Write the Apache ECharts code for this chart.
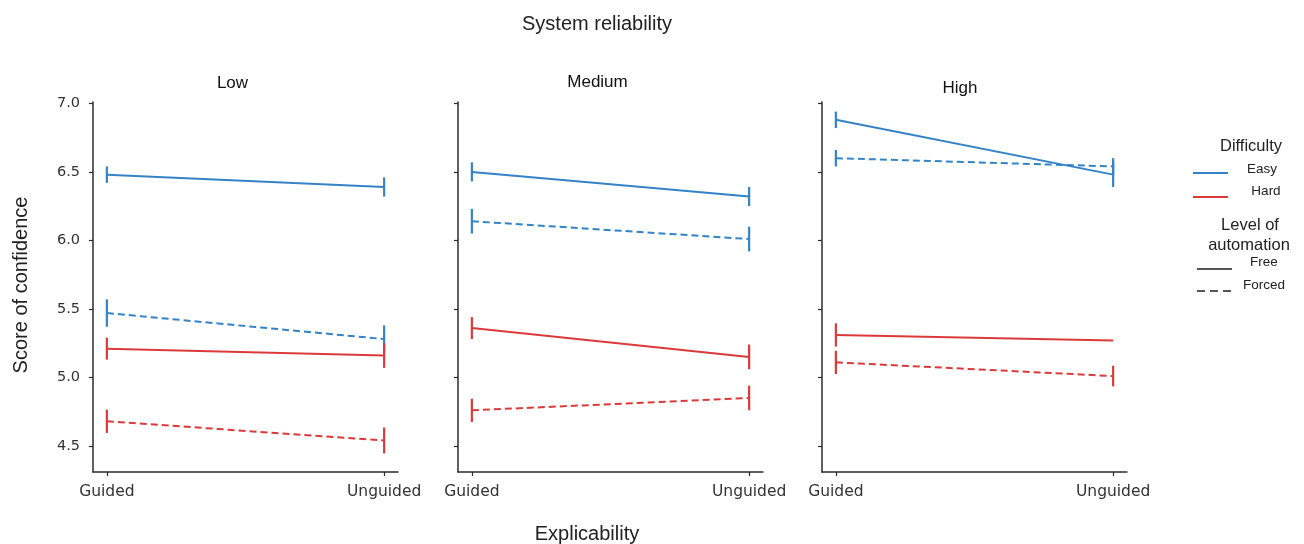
<!DOCTYPE html>
<html>
<head>
<meta charset="utf-8">
<script src="https://cdn.jsdelivr.net/npm/echarts@6/dist/echarts.min.js"></script>
<style>
html,body{margin:0;padding:0;background:#fff;}
#c{width:1304px;height:544px;}
</style>
</head>
<body>
<div id="c"></div>
<script>
// ---- data ----
const explicability = ['Guided', 'Unguided'];
const reliability = ['Low', 'Medium', 'High'];
const yTicks = [4.5, 5.0, 5.5, 6.0, 6.5, 7.0];
// means per panel [Guided, Unguided]
const easyFree   = [[6.48, 6.39], [6.50, 6.32], [6.88, 6.48]];
const easyForced = [[5.47, 5.28], [6.14, 6.01], [6.60, 6.54]];
const hardFree   = [[5.21, 5.16], [5.36, 5.15], [5.31, 5.27]];
const hardForced = [[4.68, 4.54], [4.76, 4.85], [5.11, 5.01]];
// half-widths of error bars per panel [Guided, Unguided]; null = not drawn
const easyFreeErr   = [[0.06, 0.07], [0.07, 0.07], [0.06, 0.09]];
const easyForcedErr = [[0.10, 0.10], [0.09, 0.09], [0.06, 0.06]];
const hardFreeErr   = [[0.08, 0.09], [0.08, 0.09], [0.085, null]];
const hardForcedErr = [[0.085, 0.095], [0.085, 0.09], [0.085, 0.075]];

const BLUE = '#3383c6';
const RED = '#dc3a3a';
const AXIS = '#2b2b2b';

const groups = [
  {name: 'Easy Free', vals: easyFree, err: easyFreeErr, color: BLUE, dash: 'solid'},
  {name: 'Easy Forced', vals: easyForced, err: easyForcedErr, color: BLUE, dash: [7, 4]},
  {name: 'Hard Free', vals: hardFree, err: hardFreeErr, color: RED, dash: 'solid'},
  {name: 'Hard Forced', vals: hardForced, err: hardForcedErr, color: RED, dash: [7, 4]}
];

const gridLefts = [93, 458, 822];
const grid = [], xAxis = [], yAxis = [], series = [];
reliability.forEach((r, p) => {
  grid.push({left: gridLefts[p], top: 102, width: 305, height: 370});
  xAxis.push({
    type: 'value', gridIndex: p, min: -0.05, max: 1.05,
    axisLine: {show: true, onZero: false, lineStyle: {color: AXIS, width: 1.5}},
    axisTick: {show: true, customValues: [0, 1], length: 4, lineStyle: {color: AXIS, width: 1.2}},
    axisLabel: {show: true, customValues: [0, 1], formatter: v => explicability[Math.round(v)],
      color: '#333', fontFamily: 'DejaVu Sans', fontSize: 15.5, margin: 12},
    splitLine: {show: false}
  });
  yAxis.push({
    type: 'value', gridIndex: p, min: 4.31, max: 7.01,
    axisLine: {show: true, onZero: false, lineStyle: {color: AXIS, width: 1.5}},
    axisTick: {show: true, customValues: yTicks, length: 4, lineStyle: {color: AXIS, width: 1.2}},
    axisLabel: {show: p === 0, customValues: yTicks, formatter: v => v.toFixed(1),
      color: '#333', fontFamily: 'DejaVu Sans', fontSize: 14.5, margin: 13},
    splitLine: {show: false}
  });
  groups.forEach(g => {
    series.push({
      type: 'line', name: g.name, xAxisIndex: p, yAxisIndex: p,
      data: g.vals[p].map((v, i) => [i, v]),
      symbol: 'none', silent: true, z: 2,
      lineStyle: {color: g.color, width: 2, type: g.dash}
    });
    const errData = [];
    g.err[p].forEach((e, i) => {
      if (e !== null) errData.push([i, g.vals[p][i] - e, g.vals[p][i] + e]);
    });
    series.push({
      type: 'custom', xAxisIndex: p, yAxisIndex: p, silent: true, z: 3,
      encode: {x: 0, y: [1, 2]},
      data: errData,
      renderItem: (params, api) => {
        const a = api.coord([api.value(0), api.value(1)]);
        const b = api.coord([api.value(0), api.value(2)]);
        return {type: 'line', shape: {x1: a[0], y1: a[1], x2: b[0], y2: b[1]},
          style: {stroke: g.color, lineWidth: 2.2}};
      }
    });
  });
});

const txt = (x, y, s, size, color, rot) => ({type: 'text', x: x, y: y, rotation: rot || 0,
  style: {text: s, fill: color || '#222', font: size + 'px "Liberation Sans"', textAlign: 'center', textVerticalAlign: 'middle'}});
const legendLine = (x1, x2, y, color, dash) => ({type: 'line', shape: {x1: x1, y1: y, x2: x2, y2: y},
  style: {stroke: color, lineWidth: 2.2, lineDash: dash}});

const graphic = [
  txt(597, 24, 'System reliability', 20),
  txt(232.5, 83, reliability[0], 17, '#111'),
  txt(597.5, 82, reliability[1], 17, '#111'),
  txt(960, 88, reliability[2], 17, '#111'),
  txt(587, 534, 'Explicability', 20),
  txt(21, 285, 'Score of confidence', 20, '#222', Math.PI / 2),
  txt(1251, 146, 'Difficulty', 16.5),
  legendLine(1193, 1228, 173, BLUE, null),
  txt(1262, 169, 'Easy', 13.5),
  legendLine(1193, 1228, 197, RED, null),
  txt(1266, 191, 'Hard', 13.5),
  txt(1250, 225, 'Level of', 16.5),
  txt(1249, 245, 'automation', 16.5),
  legendLine(1197, 1232, 269, '#555', null),
  txt(1264, 262, 'Free', 13.5),
  legendLine(1197, 1232, 291, '#555', [8, 5]),
  txt(1264, 285, 'Forced', 13.5)
];

const chart = echarts.init(document.getElementById('c'), null, {renderer: 'canvas'});
chart.setOption({
  animation: false,
  backgroundColor: '#fff',
  grid: grid,
  xAxis: xAxis,
  yAxis: yAxis,
  series: series,
  graphic: graphic
});
</script>
</body>
</html>
